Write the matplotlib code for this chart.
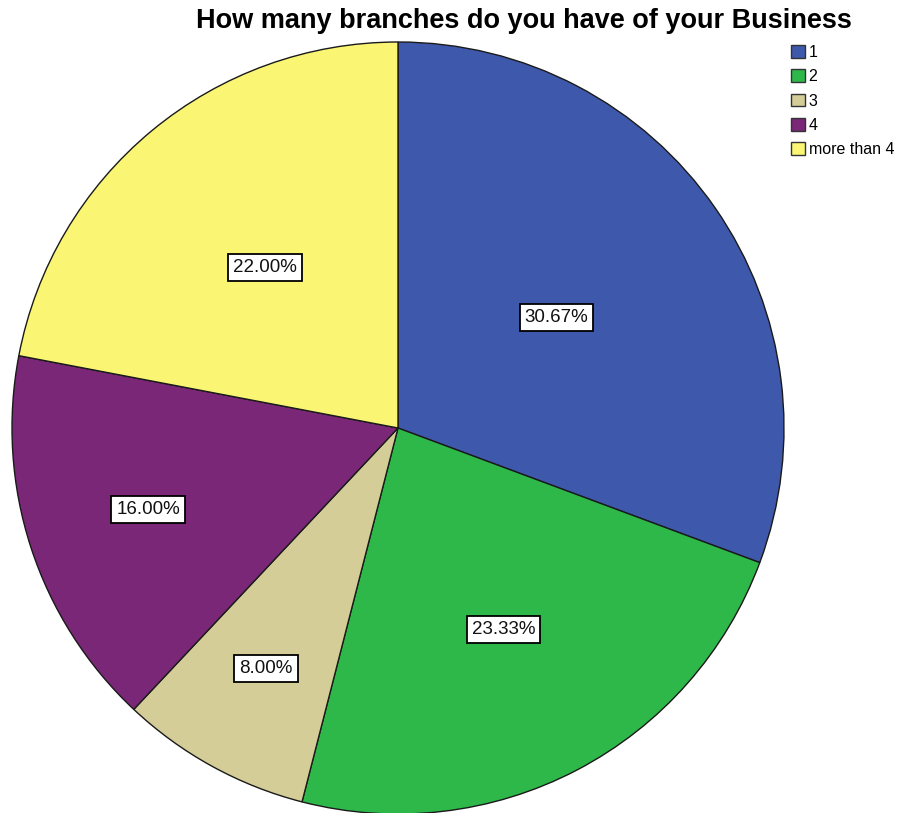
import numpy as np
import matplotlib.pyplot as plt

categories = ["1", "2", "3", "4", "more than 4"]
percents = [30.67, 23.33, 8.00, 16.00, 22.00]
colors = ["#3E58AC", "#2EB84A", "#D4CD98", "#7B2778", "#FAF674"]
# how far from the centre each percent box sits (fraction of radius)
label_dist = [0.50, 0.59, 0.71, 0.68, 0.54]

plt.rcParams['font.family'] = ['Liberation Sans', 'DejaVu Sans']

fig = plt.figure(figsize=(9.09, 8.13), dpi=100)
W, H = 909, 813
cx, cy, r = 398, 428, 386
ax = fig.add_axes([(cx - r) / W, (H - cy - r) / H, 2 * r / W, 2 * r / H])

wedges, _ = ax.pie(percents, colors=colors, startangle=90, counterclock=False,
                   radius=1, wedgeprops=dict(edgecolor="#1a1a1a", linewidth=1.0))
ax.set_xlim(-1, 1)
ax.set_ylim(-1, 1)
ax.set_aspect('auto')
ax.axis('off')

for w, p, d in zip(wedges, percents, label_dist):
    mid = np.deg2rad((w.theta1 + w.theta2) / 2)
    ax.text(d * np.cos(mid), d * np.sin(mid), "%.2f%%" % p, ha='center', va='center',
            fontsize=13.5, color='#111111',
            bbox=dict(boxstyle='square,pad=0.27', facecolor='white', edgecolor='black', linewidth=1.3))

fig.text(524 / W, 1 - 21 / H, "How many branches do you have of your Business",
         ha='center', va='center', fontsize=19.5, fontweight='bold', color='black')

leg = fig.legend(wedges, categories, loc='upper left', bbox_to_anchor=(791 / W, 1 - 45 / H),
                 frameon=False, fontsize=11.5, handlelength=0.85, handleheight=0.85,
                 handletextpad=0.25, labelspacing=0.58, borderaxespad=0, borderpad=0)
for h in leg.legend_handles:
    h.set_edgecolor('#333333')
    h.set_linewidth(1.0)

fig.savefig("out.png", dpi=100)
